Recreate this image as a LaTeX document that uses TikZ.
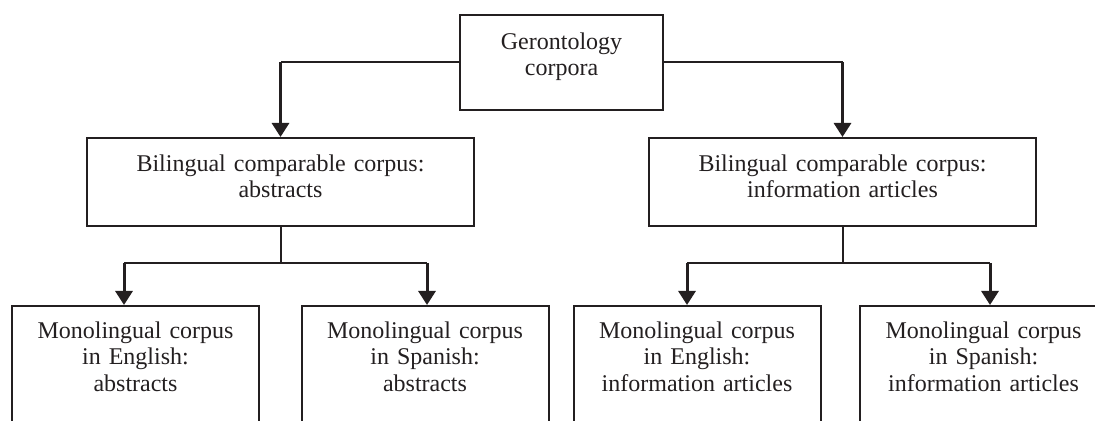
\documentclass[tikz,border=0pt]{standalone}
\usepackage{fontspec}
\setmainfont{Liberation Serif}
\usetikzlibrary{arrows.meta}
\definecolor{LineClr}{RGB}{35,31,32}
\tikzset{
  corpbox/.style={draw=LineClr,line width=1pt,inner xsep=0pt,align=center,
    font=\fontsize{12}{13}\selectfont,text=LineClr,text height=8pt,text depth=18pt},
  topbox/.style={corpbox,text width=101.5pt,minimum height=47.5pt,text depth=20.5pt},
  bibox/.style={corpbox,text width=193.5pt,minimum height=44pt},
  monobox/.style={corpbox,text width=123.5pt,anchor=north,inner ysep=8.5pt,text depth=60pt},
  conn/.style={draw=LineClr,line width=1pt},
  arr/.style={draw=LineClr,line width=1.5pt,-{Triangle[width=8.5pt,length=7pt]}}
}

\begin{document}
\begin{tikzpicture}[x=0.5pt,y=-0.5pt]
\useasboundingbox (0,0) rectangle (1095,421);
\clip (0,0) rectangle (1095,421);

\node[topbox] (gc) at (561.5,62.5) {Gerontology\\corpora};

\node[bibox] (bab) at (280.5,182) {Bilingual comparable corpus:\\abstracts};
\node[bibox] (bin) at (842.5,182) {Bilingual comparable corpus:\\information articles};

\node[monobox] (enab) at (135.5,305) {Monolingual corpus\\in English:\\abstracts};
\node[monobox] (esab) at (425,305) {Monolingual corpus\\in Spanish:\\abstracts};
\node[monobox] (enin) at (697,305) {Monolingual corpus\\in English:\\information articles};
\node[monobox] (esin) at (983.5,305) {Monolingual corpus\\in Spanish:\\information articles};

\coordinate (fab) at (280.5,263);
\coordinate (fin) at (842.5,263);
\coordinate (tenab) at ([xshift=-5.75pt]enab.north);
\coordinate (tesab) at ([xshift=1pt]esab.north);
\coordinate (tenin) at ([xshift=-5pt]enin.north);
\coordinate (tesin) at ([xshift=3.25pt]esin.north);

\draw[conn] (gc.west) -- (gc.west -| bab.north);
\draw[conn] (gc.east) -- (gc.east -| bin.north);
\draw[arr] (gc.west -| bab.north) -- (bab.north);
\draw[arr] (gc.east -| bin.north) -- (bin.north);

\draw[conn] (bab.south) -- (fab);
\draw[conn] (tenab |- fab) -- (tesab |- fab);
\draw[arr] (tenab |- fab) -- (tenab);
\draw[arr] (tesab |- fab) -- (tesab);

\draw[conn] (bin.south) -- (fin);
\draw[conn] (tenin |- fin) -- (tesin |- fin);
\draw[arr] (tenin |- fin) -- (tenin);
\draw[arr] (tesin |- fin) -- (tesin);

\end{tikzpicture}
\end{document}
